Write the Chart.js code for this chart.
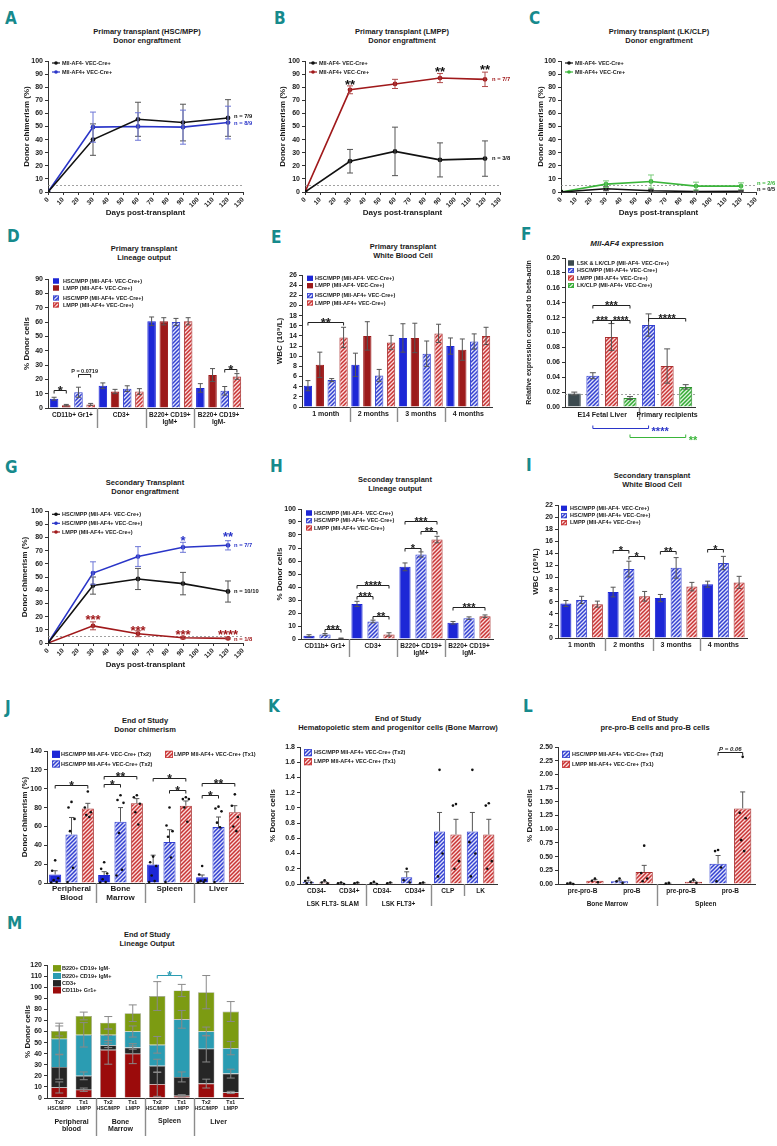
<!DOCTYPE html>
<html>
<head>
<meta charset="utf-8">
<script src="https://cdn.jsdelivr.net/npm/chart.js@4.4.1/dist/chart.umd.min.js"></script>
<style>
html, body { margin: 0; padding: 0; background: #fff; }
#fig { position: relative; width: 777px; height: 1146px; overflow: hidden; background: #fff; }
#fig canvas { position: absolute; }
.lt { position: absolute; font: bold 17px/17px 'Liberation Sans Narrow', 'DejaVu Sans Condensed', sans-serif; color: #168a8c; }
.tt { position: absolute; transform: translateX(-50%); text-align: center; white-space: nowrap;
      font: bold 7.5px/9px 'Liberation Sans', Arial, sans-serif; color: #1a1a1a; }
</style>
</head>
<body>
<div id="fig">
  <div class="lt" style="left:5px;top:10px">A</div>
  <div class="lt" style="left:274px;top:10px">B</div>
  <div class="lt" style="left:529px;top:10px">C</div>
  <div class="lt" style="left:7px;top:228px">D</div>
  <div class="lt" style="left:271px;top:229px">E</div>
  <div class="lt" style="left:521px;top:226px">F</div>
  <div class="lt" style="left:5px;top:459px">G</div>
  <div class="lt" style="left:270px;top:458px">H</div>
  <div class="lt" style="left:526px;top:457px">I</div>
  <div class="lt" style="left:5px;top:699px">J</div>
  <div class="lt" style="left:268px;top:698px">K</div>
  <div class="lt" style="left:523px;top:698px">L</div>
  <div class="lt" style="left:7px;top:915px">M</div>

  <div class="tt" style="left:147px;top:26.5px">Primary transplant (HSC/MPP)<br>Donor engraftment</div>
  <div class="tt" style="left:402px;top:26.5px">Primary transplant (LMPP)<br>Donor engraftment</div>
  <div class="tt" style="left:659px;top:26.5px">Primary transplant (LK/CLP)<br>Donor engraftment</div>
  <div class="tt" style="left:144px;top:243.5px">Primary transplant<br>Lineage output</div>
  <div class="tt" style="left:403px;top:241.5px">Primary transplant<br>White Blood Cell</div>
  <div class="tt" style="left:627px;top:238.5px;font-size:8px"><i>Mll-AF4</i> expression</div>
  <div class="tt" style="left:145px;top:477.5px">Secondary Transplant<br>Donor engraftment</div>
  <div class="tt" style="left:395px;top:474.5px">Seconday transplant<br>Lineage output</div>
  <div class="tt" style="left:652px;top:470.5px">Secondary transplant<br>White Blood Cell</div>
  <div class="tt" style="left:145px;top:715.5px">End of Study<br>Donor chimerism</div>
  <div class="tt" style="left:398px;top:713.5px">End of Study<br>Hematopoietic stem and progenitor cells (Bone Marrow)</div>
  <div class="tt" style="left:655px;top:713.5px">End of Study<br>pre-pro-B cells and pro-B cells</div>
  <div class="tt" style="left:147px;top:929.5px">End of Study<br>Lineage Output</div>
</div>

<script>
// ---------- data ----------
const days = [0, 30, 60, 90, 120];

const aNeg = [0, 40, 55.5, 53, 56.5];
const aNegErr = [0, 12, 13, 14, 14];
const aPos = [0, 49.5, 50, 49.5, 53];
const aPosErr = [0, 11.5, 10.5, 13, 12.5];

const bNeg = [0, 23.5, 31, 24.5, 25.5];
const bNegErr = [0, 9, 18.5, 13, 13.5];
const bPos = [0, 78, 82.5, 87, 86];
const bPosErr = [0, 3, 3.5, 3.5, 5.5];

const cNeg = [0, 2.5, 1, 0.3, 0.5];
const cNegErr = [0, 1.5, 1, 0.3, 0.5];
const cPos = [0, 6, 8, 4.5, 4.5];
const cPosErr = [0, 2.5, 5, 3, 2.5];

const lineageCats = [['CD11b+ Gr1+'], ['CD3+'], ['B220+ CD19+', 'IgM+'], ['B220+ CD19+', 'IgM-']];
const dHscNeg = [6.5, 15.5, 60.5, 14];
const dHscNegErr = [1, 2, 3, 3];
const dLmppNeg = [2, 11.5, 60.5, 23];
const dLmppNegErr = [0.5, 1.5, 2.5, 4.5];
const dHscPos = [11, 13.5, 60, 12];
const dHscPosErr = [3.5, 2, 2.5, 3];
const dLmppPos = [2.5, 11.5, 60.5, 22];
const dLmppPosErr = [0.7, 2, 2.5, 2];

const months = ['1 month', '2 months', '3 months', '4 months'];
const eHscNeg = [4.2, 8.3, 13.6, 12];
const eHscNegErr = [1, 2.3, 2.8, 1.6];
const eLmppNeg = [8.3, 14, 13.6, 11.3];
const eLmppNegErr = [2.5, 2.8, 2.9, 2.1];
const eHscPos = [5.3, 6.2, 10.5, 12.9];
const eHscPosErr = [0.3, 1.2, 2.5, 1.5];
const eLmppPos = [13.7, 12.7, 14.5, 14];
const eLmppPosErr = [2, 1.4, 1.8, 1.7];

const fCats = ['LSK & LK/CLP', 'HSC/MPP', 'LMPP', 'LK/CLP', 'HSC/MPP', 'LMPP', 'LK/CLP'];
const fVals = [0.018, 0.042, 0.094, 0.012, 0.110, 0.055, 0.027];
const fErr = [0.002, 0.004, 0.018, 0.002, 0.015, 0.023, 0.003];

const gHscNeg = [0, 43.5, 48.5, 45, 39];
const gHscNegErr = [0, 6.5, 8, 8.5, 8];
const gHscPos = [0, 53, 65.5, 72.5, 74];
const gHscPosErr = [0, 8.5, 7.5, 3.8, 3.5];
const gLmppPos = [0, 13, 7, 4, 3.5];
const gLmppPosErr = [0, 3, 2.2, 0.8, 0.5];

const hHscNeg = [2.5, 27, 55.5, 12.5];
const hHscNegErr = [0.8, 2, 3, 1];
const hHscPos = [3.5, 13.5, 65, 16];
const hHscPosErr = [0.7, 1, 2, 1];
const hLmppPos = [0.5, 3.5, 76.5, 17.5];
const hLmppPosErr = [0.2, 1.3, 2.5, 1];

const iHscNeg = [5.7, 7.6, 6.6, 8.9];
const iHscNegErr = [0.5, 0.8, 0.6, 0.5];
const iHscPos = [6.3, 11.4, 11.6, 12.4];
const iHscPosErr = [0.6, 1.3, 1.7, 1.1];
const iLmppPos = [5.6, 6.9, 8.5, 9.2];
const iLmppPosErr = [0.5, 0.8, 0.7, 1];

const tissues = [['Peripheral', 'Blood'], ['Bone', 'Marrow'], ['Spleen'], ['Liver']];
const jHscNeg = [9, 8.5, 19.5, 6];
const jHscNegErr = [4, 3.5, 10, 2.5];
const jHscPos = [51.5, 65, 43.5, 59.5];
const jHscPosErr = [18, 15, 13, 10.5];
const jLmppPos = [79, 84.5, 82, 75];
const jLmppPosErr = [5.5, 5, 5, 7];
const jHscNegDots = [[24, 13, 5, 3, 1, 0.5], [22, 15, 10, 4, 1, 0.5], [28, 22, 18, 8, 2, 1], [18, 9, 3, 2, 1, 0.5]];
const jHscPosDots = [[86, 80, 68, 55, 16, 1], [93, 88, 85, 53, 14, 8], [80, 61, 55, 49, 27, 1], [81, 79, 76, 64, 59, 1]];
const jLmppPosDots = [[97, 80, 75, 72, 70], [93, 91, 84, 75, 62], [91, 89, 89, 80, 65], [94, 82, 70, 60, 55]];

const kCats = ['CD34-', 'CD34+', 'CD34-', 'CD34+', 'CLP', 'LK'];
const kHscPos = [0.03, 0.01, 0.01, 0.09, 0.69, 0.69];
const kHscPosErr = [0.02, 0.005, 0.005, 0.07, 0.25, 0.25];
const kLmppPos = [0.02, 0.01, 0.01, 0.01, 0.65, 0.65];
const kLmppPosErr = [0.01, 0.005, 0.005, 0.005, 0.2, 0.2];
const kHscPosDots = [[0.08, 0.04, 0.02, 0.01], [0.02, 0.01, 0], [0.03, 0.01, 0], [0.2, 0.05, 0.02], [1.5, 0.55, 0.4, 0.1], [1.5, 0.55, 0.4, 0.1]];
const kLmppPosDots = [[0.05, 0.02, 0.01], [0.02, 0.01], [0.02, 0.01], [0.02, 0.01], [1.05, 1.03, 0.3, 0.2], [1.06, 1.03, 0.3, 0.2]];

const lCats = ['pre-pro-B', 'pro-B', 'pre-pro-B', 'pro-B'];
const lHscPos = [0.01, 0.05, 0.01, 0.37];
const lHscPosErr = [0.005, 0.02, 0.005, 0.15];
const lLmppPos = [0.06, 0.22, 0.04, 1.38];
const lLmppPosErr = [0.02, 0.12, 0.02, 0.3];
const lHscPosDots = [[0.02, 0.01, 0], [0.1, 0.05, 0.02], [0.02, 0.01], [0.62, 0.6, 0.3, 0.05]];
const lLmppPosDots = [[0.1, 0.06, 0.03], [0.7, 0.2, 0.1, 0.05], [0.08, 0.04, 0.02], [2.32, 1.3, 1.2, 0.8, 0.6]];

const mCats = [['Tx2', 'HSC/MPP'], ['Tx1', 'LMPP'], ['Tx2', 'HSC/MPP'], ['Tx1', 'LMPP'],
               ['Tx2', 'HSC/MPP'], ['Tx1', 'LMPP'], ['Tx2', 'HSC/MPP'], ['Tx1', 'LMPP']];
const mMyeloid = [9.5, 7.5, 43.5, 40, 12.5, 2, 13, 5];
const mMyeloidErr = [5, 1.5, 13, 9, 11, 1, 4, 1];
const mT = [18.5, 12.5, 4, 5.5, 16.5, 17, 31.5, 17];
const mTErr = [11, 3.5, 2, 1.5, 6, 4.5, 12, 4];
const mIgMPos = [25.5, 37, 9.5, 14.5, 19, 52, 15.5, 23];
const mIgMPosErr = [14, 11, 5, 5, 7.5, 8, 4, 6];
const mIgMNeg = [7, 17, 11, 16.5, 44, 26, 35.5, 33];
const mIgMNegErr = [4.5, 3.5, 5.5, 7.5, 13, 5.5, 15, 9];

// ---------- styles ----------
const FONT = "'Liberation Sans', Arial, 'DejaVu Sans', sans-serif";
const BLUE = '#1d27d6', RED = '#9c1a1a', HB = '#3340d0', HR = '#c83434', HG = '#33aa33', GRAY = '#3c4a4f';
const LBLUE = '#2a35c8', LRED = '#a0191b', LGREEN = '#3ab53a', BLACK = '#111';
const MRED = '#9b0b0b', MDARK = '#262626', MTEAL = '#2b9cb2', MOLIVE = '#7c9b12';

Chart.defaults.font.family = FONT;
Chart.defaults.font.size = 7;
Chart.defaults.font.weight = 'bold';
Chart.defaults.color = '#1a1a1a';

function hatch(color, bg) {
    const t = document.createElement('canvas');
    t.width = t.height = 4;
    const g = t.getContext('2d');
    g.fillStyle = bg;
    g.fillRect(0, 0, 4, 4);
    g.strokeStyle = color;
    g.lineWidth = 1.5;
    g.beginPath();
    g.moveTo(0, 4); g.lineTo(4, 0);
    g.moveTo(-1, 1); g.lineTo(1, -1);
    g.moveTo(3, 5); g.lineTo(5, 3);
    g.stroke();
    return g.createPattern(t, 'repeat');
}

const S = {
    blue: { backgroundColor: BLUE, borderColor: BLUE },
    red: { backgroundColor: RED, borderColor: RED },
    hblue: { backgroundColor: hatch(HB, '#dfe2fa'), borderColor: HB },
    hred: { backgroundColor: hatch(HR, '#fadcdc'), borderColor: '#a83030' },
    hgreen: { backgroundColor: hatch(HG, '#dcf3dc'), borderColor: '#2f8f2f' },
    gray: { backgroundColor: GRAY, borderColor: GRAY }
};

// ---------- plugin: error bars, dots, brackets, labels, legends ----------
Chart.register({
    id: 'extras',
    beforeDatasetsDraw(chart) {
        const ex = chart.data.ex;
        if (!ex || !ex.hlines) return;
        const ctx = chart.ctx, ys = chart.scales.y, a = chart.chartArea;
        ctx.save();
        ex.hlines.forEach(h => {
            const y = Math.round(ys.getPixelForValue(h.v)) + 0.5;
            ctx.strokeStyle = h.c || '#8a8a8a';
            ctx.lineWidth = 0.8;
            ctx.setLineDash([2, 2]);
            ctx.beginPath(); ctx.moveTo(a.left, y); ctx.lineTo(a.right, y); ctx.stroke();
        });
        ctx.restore();
    },
    afterDatasetsDraw(chart) {
        const ctx = chart.ctx, ys = chart.scales.y;
        ctx.save();
        chart.data.datasets.forEach((ds, di) => {
            const meta = chart.getDatasetMeta(di);
            if (ds.err) meta.data.forEach((el, i) => {
                const e = ds.err[i];
                if (!e) return;
                const v = ys.getValueForPixel(el.y);
                const y1 = ys.getPixelForValue(v + e), y2 = ys.getPixelForValue(ds.errUp ? v : v - e);
                const cw = ds.capW || 3;
                ctx.strokeStyle = ds.errColor || ds.borderColor;
                ctx.lineWidth = 1;
                ctx.beginPath();
                ctx.moveTo(el.x, y1); ctx.lineTo(el.x, y2);
                ctx.moveTo(el.x - cw, y1); ctx.lineTo(el.x + cw, y1);
                if (!ds.errUp) { ctx.moveTo(el.x - cw, y2); ctx.lineTo(el.x + cw, y2); }
                ctx.stroke();
            });
            if (ds.dots) meta.data.forEach((el, i) => {
                (ds.dots[i] || []).forEach((v, k) => {
                    const jit = [0, -3, 3, -1.5, 1.5, -4, 4][k % 7];
                    ctx.fillStyle = '#111';
                    ctx.beginPath();
                    ctx.arc(el.x + jit, ys.getPixelForValue(v), 1.3, 0, Math.PI * 2);
                    ctx.fill();
                });
            });
        });
        ctx.restore();
    },
    afterDraw(chart) {
        const ex = chart.data.ex;
        if (!ex) return;
        const ctx = chart.ctx, xs = chart.scales.x, ys = chart.scales.y, a = chart.chartArea;
        const ox = ex.ox, oy = ex.oy;
        const pt = (p) => chart.getDatasetMeta(p[0]).data[p[1]];
        ctx.save();

        (ex.seps || []).forEach(s => {
            const x = Math.round((xs.getPixelForValue(s.after) + xs.getPixelForValue(s.after + 1)) / 2) + 0.5;
            ctx.strokeStyle = '#8c8c8c';
            ctx.lineWidth = 1.4;
            ctx.beginPath(); ctx.moveTo(x, a.bottom); ctx.lineTo(x, a.bottom + s.len); ctx.stroke();
        });

        (ex.glabels || []).forEach(g => {
            const x = (xs.getPixelForValue(g.from) + xs.getPixelForValue(g.to)) / 2;
            ctx.font = 'bold ' + (g.size || 7) + 'px ' + FONT;
            ctx.fillStyle = '#1a1a1a';
            ctx.textAlign = 'center';
            ctx.textBaseline = 'middle';
            g.lines.forEach((t, k) => ctx.fillText(t, x, g.y - oy + k * (g.lh || 8)));
        });

        (ex.brackets || []).forEach(b => {
            const p1 = pt(b.p[0]), p2 = pt(b.p[1]);
            const y = Math.round(b.py != null ? b.py - oy : ys.getPixelForValue(b.v)) + 0.5;
            const tk = b.tick == null ? 3 : b.tick;
            const col = b.c || '#222';
            ctx.strokeStyle = col;
            ctx.lineWidth = 1;
            ctx.beginPath();
            ctx.moveTo(p1.x, y + tk); ctx.lineTo(p1.x, y); ctx.lineTo(p2.x, y); ctx.lineTo(p2.x, y + tk);
            ctx.stroke();
            ctx.fillStyle = col;
            const star = /^\*+$/.test(b.t);
            const fs = b.fs || (star ? 13 : 6);
            ctx.font = (b.it ? 'italic ' : '') + 'bold ' + fs + 'px ' + FONT;
            ctx.textBaseline = 'alphabetic';
            if (b.side) {
                ctx.textAlign = 'left';
                ctx.fillText(b.t, p2.x + 3, y + fs * 0.58);
            } else {
                ctx.textAlign = 'center';
                ctx.fillText(b.t, (p1.x + p2.x) / 2, star ? y + fs * 0.35 : y - 2);
            }
        });

        (ex.texts || []).forEach(t => {
            const el = pt([t.ds, t.i]);
            const x = el.x + (t.dx || 0);
            const y = t.v != null ? ys.getPixelForValue(t.v) : el.y + (t.dy || 0);
            const star = /^\*+$/.test(t.t);
            ctx.fillStyle = t.c || '#111';
            ctx.textAlign = t.align || 'center';
            if (star) {
                ctx.font = 'bold 13px ' + FONT;
                ctx.textBaseline = 'alphabetic';
                ctx.fillText(t.t, x, y + 7.5);
            } else {
                ctx.font = 'bold 5.8px ' + FONT;
                ctx.textBaseline = 'middle';
                ctx.fillText(t.t, x, y);
            }
        });

        if (ex.legend) {
            const L = ex.legend;
            ctx.font = 'bold 5.5px ' + FONT;
            ctx.textAlign = 'left';
            ctx.textBaseline = 'middle';
            L.items.forEach(it => {
                const bx = (it.x != null ? it.x : L.x) - ox;
                const tx = bx + (L.tx - L.x);
                const y = it.y - oy;
                if (it.type === 'line') {
                    ctx.strokeStyle = it.c;
                    ctx.lineWidth = 1.2;
                    ctx.beginPath(); ctx.moveTo(bx, y); ctx.lineTo(bx + 8, y); ctx.stroke();
                    ctx.fillStyle = it.c;
                    ctx.beginPath(); ctx.arc(bx + 4, y, 1.8, 0, Math.PI * 2); ctx.fill();
                } else {
                    const w = L.w || 6, h = L.h || 5;
                    ctx.fillStyle = it.fill;
                    ctx.fillRect(bx, y - h / 2, w, h);
                    ctx.strokeStyle = it.c;
                    ctx.lineWidth = 0.8;
                    ctx.strokeRect(bx + 0.4, y - h / 2 + 0.4, w - 0.8, h - 0.8);
                }
                ctx.fillStyle = '#1a1a1a';
                ctx.fillText(it.t, tx, y);
            });
        }
        ctx.restore();
    }
});

// ---------- helpers ----------
function makeCanvas(box) {
    const c = document.createElement('canvas');
    c.width = box[2];
    c.height = box[3];
    c.style.left = box[0] + 'px';
    c.style.top = box[1] + 'px';
    document.getElementById('fig').appendChild(c);
    return c;
}

function yAxis(min, max, step, title, digits, tsize) {
    return {
        min: min, max: max,
        ticks: { stepSize: step, padding: 2, autoSkip: false, font: { size: 7 },
                 callback: v => digits ? Number(v).toFixed(digits) : v },
        grid: { drawOnChartArea: false, tickLength: 3, color: '#333' },
        border: { color: '#333' },
        title: { display: true, text: title, padding: 0, font: { size: tsize || 8 } }
    };
}

function catAxis(size, pad, lh) {
    return {
        ticks: { padding: pad, autoSkip: false, maxRotation: 0, font: { size: size, lineHeight: lh || 1.05 } },
        grid: { drawOnChartArea: false, drawTicks: false },
        border: { color: '#333' }
    };
}

function daysAxis() {
    return {
        type: 'linear', min: 0, max: 130,
        ticks: { stepSize: 10, autoSkip: false, minRotation: 45, maxRotation: 45, padding: 1, font: { size: 6.5 } },
        grid: { drawOnChartArea: false, tickLength: 3, color: '#333' },
        border: { color: '#333' },
        title: { display: true, text: 'Days post-transplant', padding: 0, font: { size: 8 } }
    };
}

function draw(type, box, area, data, x, y, ex, stacked) {
    const [bx, by, bw, bh] = box, [L, T, R, B] = area;
    x.afterFit = s => { s.height = by + bh - B; s.paddingLeft = 0; s.paddingRight = 0; };
    y.afterFit = s => { s.width = L - bx; s.paddingTop = 0; s.paddingBottom = 0; };
    if (stacked) { x.stacked = true; y.stacked = true; }
    data.ex = Object.assign({ ox: bx, oy: by }, ex);
    new Chart(makeCanvas(box), {
        type: type,
        data: data,
        options: {
            responsive: false,
            animation: false,
            devicePixelRatio: 1,
            layout: { padding: { left: 0, top: T - by, right: bx + bw - R, bottom: 0 } },
            plugins: { legend: { display: false }, tooltip: { enabled: false } },
            scales: { x: x, y: y }
        }
    });
}

function series(vals, err, color, errColor) {
    return {
        data: days.map((d, i) => ({ x: d, y: vals[i] })),
        err: err, errColor: errColor, capW: 3,
        borderColor: color, backgroundColor: color, pointBackgroundColor: color,
        borderWidth: 1.6, pointRadius: 2.4, pointBorderWidth: 0, tension: 0
    };
}

function bar(vals, err, style, extra) {
    return Object.assign({ data: vals, err: err, errColor: '#555', capW: 2.5, borderWidth: 1,
                           barPercentage: 0.7, categoryPercentage: 1 }, style, extra || {});
}

function lineLegend(x, labels) {
    return { x: x, tx: x + 10, items: labels };
}

// ---------- A ----------
draw('line', [22, 50, 238, 168], [48, 61, 243, 192],
    { datasets: [series(aNeg, aNegErr, BLACK, '#555'), series(aPos, aPosErr, LBLUE, '#6d76d6')] },
    daysAxis(), yAxis(0, 100, 10, 'Donor chimerism (%)'),
    {
        hlines: [{ v: 5 }],
        legend: lineLegend(52, [{ t: 'Mll-AF4- VEC-Cre+', type: 'line', c: BLACK, y: 63 },
                                { t: 'Mll-AF4+ VEC-Cre+', type: 'line', c: LBLUE, y: 72 }]),
        texts: [{ ds: 0, i: 4, t: 'n = 7/9', c: BLACK, dx: 6, v: 57.5, align: 'left' },
                { ds: 1, i: 4, t: 'n = 8/9', c: LBLUE, dx: 6, v: 52.4, align: 'left' }]
    });

// ---------- B ----------
draw('line', [278, 50, 240, 168], [305, 61, 500, 192],
    { datasets: [series(bNeg, bNegErr, BLACK, '#555'), series(bPos, bPosErr, LRED, '#b04a4a')] },
    daysAxis(), yAxis(0, 100, 10, 'Donor chimerism (%)'),
    {
        hlines: [{ v: 5 }],
        legend: lineLegend(309, [{ t: 'Mll-AF4- VEC-Cre+', type: 'line', c: BLACK, y: 63 },
                                 { t: 'Mll-AF4+ VEC-Cre+', type: 'line', c: LRED, y: 72 }]),
        texts: [{ ds: 1, i: 4, t: 'n = 7/7', c: LRED, dx: 7, v: 86, align: 'left' },
                { ds: 0, i: 4, t: 'n = 3/8', c: BLACK, dx: 7, v: 25.5, align: 'left' },
                { ds: 1, i: 1, t: '**', c: BLACK, v: 84.2 },
                { ds: 1, i: 3, t: '**', c: BLACK, v: 94.4 },
                { ds: 1, i: 4, t: '**', c: BLACK, v: 95.6 }]
    });

// ---------- C ----------
draw('line', [536, 50, 241, 168], [561, 61, 756, 192],
    { datasets: [series(cNeg, cNegErr, BLACK, '#555'), series(cPos, cPosErr, LGREEN, '#7acb7a')] },
    daysAxis(), yAxis(0, 100, 10, 'Donor chimerism (%)'),
    {
        hlines: [{ v: 5 }],
        legend: lineLegend(565, [{ t: 'Mll-AF4- VEC-Cre+', type: 'line', c: BLACK, y: 63 },
                                 { t: 'Mll-AF4+ VEC-Cre+', type: 'line', c: LGREEN, y: 72 }]),
        texts: [{ ds: 1, i: 4, t: 'n = 2/6', c: LGREEN, dx: 16, v: 6.9, align: 'left' },
                { ds: 0, i: 4, t: 'n = 0/5', c: BLACK, dx: 16, v: 2.3, align: 'left' }]
    });

// ---------- D ----------
draw('bar', [22, 270, 238, 165], [48, 279, 243, 408],
    { labels: lineageCats, datasets: [
        bar(dHscNeg, dHscNegErr, S.blue), bar(dLmppNeg, dLmppNegErr, S.red),
        bar(dHscPos, dHscPosErr, S.hblue), bar(dLmppPos, dLmppPosErr, S.hred)] },
    catAxis(6.5, 3.6), yAxis(0, 90, 10, '% Donor cells'),
    {
        seps: [{ after: 0, len: 20 }, { after: 1, len: 20 }, { after: 2, len: 20 }],
        legend: { x: 53, tx: 63, items: [
            { t: 'HSC/MPP (Mll-AF4- VEC-Cre+)', fill: BLUE, c: BLUE, y: 281 },
            { t: 'LMPP (Mll-AF4- VEC-Cre+)', fill: RED, c: RED, y: 288 },
            { t: 'HSC/MPP (Mll-AF4+ VEC-Cre+)', fill: S.hblue.backgroundColor, c: HB, y: 298 },
            { t: 'LMPP (Mll-AF4+ VEC-Cre+)', fill: S.hred.backgroundColor, c: HR, y: 305 }] },
        brackets: [{ p: [[0, 0], [1, 0]], v: 12.6, t: '*' },
                   { p: [[2, 0], [3, 0]], v: 24, t: 'P = 0.0719', fs: 5.5 },
                   { p: [[2, 3], [3, 3]], v: 27, t: '*' }]
    });

// ---------- E ----------
draw('bar', [275, 266, 243, 168], [302, 275, 492, 407],
    { labels: months, datasets: [
        bar(eHscNeg, eHscNegErr, S.blue), bar(eLmppNeg, eLmppNegErr, S.red),
        bar(eHscPos, eHscPosErr, S.hblue), bar(eLmppPos, eLmppPosErr, S.hred)] },
    catAxis(7, 3.8), yAxis(0, 26, 2, 'WBC (10⁹/L)'),
    {
        seps: [{ after: 0, len: 15 }, { after: 1, len: 15 }, { after: 2, len: 15 }],
        legend: { x: 307, tx: 315, items: [
            { t: 'HSC/MPP (Mll-AF4- VEC-Cre+)', fill: BLUE, c: BLUE, y: 278.3 },
            { t: 'LMPP (Mll-AF4- VEC-Cre+)', fill: RED, c: RED, y: 285.7 },
            { t: 'HSC/MPP (Mll-AF4+ VEC-Cre+)', fill: S.hblue.backgroundColor, c: HB, y: 295.7 },
            { t: 'LMPP (Mll-AF4+ VEC-Cre+)', fill: S.hred.backgroundColor, c: HR, y: 303 }] },
        brackets: [{ p: [[0, 0], [3, 0]], v: 16.8, t: '**' }]
    });

// ---------- F ----------
const fStyles = [S.gray, S.hblue, S.hred, S.hgreen, S.hblue, S.hred, S.hgreen];
draw('bar', [525, 250, 252, 195], [565, 258, 695, 407],
    { labels: fCats, datasets: [bar(fVals, fErr, {
        backgroundColor: fStyles.map(s => s.backgroundColor),
        borderColor: fStyles.map(s => s.borderColor) }, { errColor: '#555', capW: 3 })] },
    Object.assign(catAxis(7, 3), { ticks: { display: false } }),
    yAxis(0, 0.2, 0.02, 'Relative expression compared to beta-actin', 2, 7),
    {
        hlines: [{ v: 0.018 }],
        seps: [{ after: 3, len: 13 }],
        glabels: [{ from: 0, to: 3, lines: ['E14 Fetal Liver'], y: 415 },
                  { from: 4, to: 6, lines: ['Primary recipients'], y: 415 }],
        legend: { x: 568, tx: 577, items: [
            { t: 'LSK & LK/CLP (Mll-AF4- VEC-Cre+)', fill: GRAY, c: GRAY, y: 263 },
            { t: 'HSC/MPP (Mll-AF4+ VEC-Cre+)', fill: S.hblue.backgroundColor, c: HB, y: 270.5 },
            { t: 'LMPP (Mll-AF4+ VEC-Cre+)', fill: S.hred.backgroundColor, c: HR, y: 278 },
            { t: 'LK/CLP (Mll-AF4+ VEC-Cre+)', fill: S.hgreen.backgroundColor, c: HG, y: 285.5 }] },
        brackets: [{ p: [[0, 1], [0, 3]], v: 0.137, t: '***', fs: 11 },
                   { p: [[0, 1], [0, 2]], v: 0.117, t: '***', fs: 10 },
                   { p: [[0, 2], [0, 3]], v: 0.117, t: '****', fs: 10 },
                   { p: [[0, 4], [0, 6]], v: 0.12, t: '****', fs: 11 },
                   { p: [[0, 1], [0, 4]], py: 428.3, tick: -3, t: '****', c: '#2a35c8', side: true, fs: 11 },
                   { p: [[0, 3], [0, 6]], py: 436.7, tick: -3, t: '**', c: '#3ab53a', side: true, fs: 11 }]
    });

// ---------- G ----------
draw('line', [20, 500, 240, 170], [48, 511, 243, 643],
    { datasets: [series(gHscNeg, gHscNegErr, BLACK, '#555'), series(gHscPos, gHscPosErr, LBLUE, '#6d76d6'),
                 series(gLmppPos, gLmppPosErr, LRED, '#b04a4a')] },
    daysAxis(), yAxis(0, 100, 10, 'Donor chimerism (%)'),
    {
        hlines: [{ v: 5 }],
        legend: lineLegend(52, [{ t: 'HSC/MPP (Mll-AF4- VEC-Cre+)', type: 'line', c: BLACK, y: 514.3 },
                                { t: 'HSC/MPP (Mll-AF4+ VEC-Cre+)', type: 'line', c: LBLUE, y: 523.3 },
                                { t: 'LMPP (Mll-AF4+ VEC-Cre+)', type: 'line', c: LRED, y: 532 }]),
        texts: [{ ds: 1, i: 4, t: 'n = 7/7', c: LBLUE, dx: 6, v: 74, align: 'left' },
                { ds: 0, i: 4, t: 'n = 10/10', c: BLACK, dx: 6, v: 39, align: 'left' },
                { ds: 2, i: 4, t: 'n = 1/8', c: LRED, dx: 6, v: 2.5, align: 'left' },
                { ds: 1, i: 3, t: '*', c: LBLUE, v: 79.8 },
                { ds: 1, i: 4, t: '**', c: LBLUE, v: 82.6 },
                { ds: 2, i: 1, t: '***', c: LRED, v: 20 },
                { ds: 2, i: 2, t: '***', c: LRED, v: 12 },
                { ds: 2, i: 3, t: '***', c: LRED, v: 8.6 },
                { ds: 2, i: 4, t: '****', c: LRED, v: 8.6 }]
    });

// ---------- H ----------
draw('bar', [275, 500, 243, 165], [301, 509, 493, 639],
    { labels: lineageCats, datasets: [
        bar(hHscNeg, hHscNegErr, S.blue), bar(hHscPos, hHscPosErr, S.hblue), bar(hLmppPos, hLmppPosErr, S.hred)] },
    catAxis(6.5, 3.6), yAxis(0, 100, 10, '% Donor cells'),
    {
        seps: [{ after: 0, len: 18 }, { after: 1, len: 18 }, { after: 2, len: 18 }],
        legend: { x: 306, tx: 314, items: [
            { t: 'HSC/MPP (Mll-AF4- VEC-Cre+)', fill: BLUE, c: BLUE, y: 513 },
            { t: 'HSC/MPP (Mll-AF4+ VEC-Cre+)', fill: S.hblue.backgroundColor, c: HB, y: 520.7 },
            { t: 'LMPP (Mll-AF4+ VEC-Cre+)', fill: S.hred.backgroundColor, c: HR, y: 528 }] },
        brackets: [{ p: [[1, 0], [2, 0]], v: 7.7, t: '***', fs: 11 },
                   { p: [[0, 1], [1, 1]], v: 33, t: '***', fs: 11 },
                   { p: [[0, 1], [2, 1]], v: 41.5, t: '****', fs: 11 },
                   { p: [[1, 1], [2, 1]], v: 17.7, t: '**', fs: 11 },
                   { p: [[0, 2], [1, 2]], v: 70, t: '*', fs: 11 },
                   { p: [[1, 2], [2, 2]], v: 83, t: '**', fs: 11 },
                   { p: [[0, 2], [2, 2]], v: 91, t: '***', fs: 11 },
                   { p: [[0, 3], [2, 3]], v: 24.6, t: '***', fs: 11 }]
    });

// ---------- I ----------
draw('bar', [531, 496, 246, 165], [558, 505, 747, 638],
    { labels: months, datasets: [
        bar(iHscNeg, iHscNegErr, S.blue), bar(iHscPos, iHscPosErr, S.hblue), bar(iLmppPos, iLmppPosErr, S.hred)] },
    catAxis(7, 3.5), yAxis(0, 22, 2, 'WBC (10⁹/L)'),
    {
        seps: [{ after: 0, len: 13 }, { after: 1, len: 13 }, { after: 2, len: 13 }],
        legend: { x: 561, tx: 570, items: [
            { t: 'HSC/MPP (Mll-AF4- VEC-Cre+)', fill: BLUE, c: BLUE, y: 508.3 },
            { t: 'HSC/MPP (Mll-AF4+ VEC-Cre+)', fill: S.hblue.backgroundColor, c: HB, y: 515.7 },
            { t: 'LMPP (Mll-AF4+ VEC-Cre+)', fill: S.hred.backgroundColor, c: HR, y: 522.7 }] },
        brackets: [{ p: [[0, 1], [1, 1]], v: 14.6, t: '*', fs: 11 },
                   { p: [[1, 1], [2, 1]], v: 13.5, t: '*', fs: 11 },
                   { p: [[0, 2], [1, 2]], v: 14.4, t: '**', fs: 11 },
                   { p: [[0, 3], [1, 3]], v: 14.7, t: '*', fs: 11 }]
    });

// ---------- J ----------
draw('bar', [20, 742, 240, 172], [47, 751, 243, 883],
    { labels: tissues, datasets: [
        bar(jHscNeg, jHscNegErr, S.blue, { dots: jHscNegDots, errUp: true, barPercentage: 0.74 }),
        bar(jHscPos, jHscPosErr, S.hblue, { dots: jHscPosDots, errUp: true, barPercentage: 0.74 }),
        bar(jLmppPos, jLmppPosErr, S.hred, { dots: jLmppPosDots, errUp: true, barPercentage: 0.74 })] },
    catAxis(8, 1, 1.12), yAxis(0, 140, 20, 'Donor chimerism (%)'),
    {
        seps: [{ after: 0, len: 20 }, { after: 1, len: 20 }, { after: 2, len: 20 }],
        legend: { x: 52, tx: 61, w: 8, h: 7, items: [
            { t: 'HSC/MPP Mll-AF4- VEC-Cre+ (Tx2)', fill: BLUE, c: BLUE, y: 754.3 },
            { t: 'HSC/MPP Mll-AF4+ VEC-Cre+ (Tx2)', fill: S.hblue.backgroundColor, c: HB, y: 764 },
            { t: 'LMPP Mll-AF4+ VEC-Cre+ (Tx1)', fill: S.hred.backgroundColor, c: HR, y: 754.3, x: 165 }] },
        brackets: [{ p: [[0, 0], [2, 0]], v: 104, t: '*', fs: 12 },
                   { p: [[0, 1], [2, 1]], v: 113.8, t: '**', fs: 12 },
                   { p: [[0, 1], [1, 1]], v: 105, t: '*', fs: 12 },
                   { p: [[0, 2], [2, 2]], v: 111, t: '*', fs: 12 },
                   { p: [[1, 2], [2, 2]], v: 98.6, t: '*', fs: 12 },
                   { p: [[0, 3], [2, 3]], v: 106, t: '**', fs: 12 },
                   { p: [[0, 3], [1, 3]], v: 93, t: '*', fs: 12 }]
    });

// ---------- K ----------
draw('bar', [268, 738, 250, 180], [300, 747, 497, 884],
    { labels: kCats, datasets: [
        bar(kHscPos, kHscPosErr, S.hblue, { dots: kHscPosDots, errUp: true, barPercentage: 0.68 }),
        bar(kLmppPos, kLmppPosErr, S.hred, { dots: kLmppPosDots, errUp: true, barPercentage: 0.68 })] },
    catAxis(6.5, 3.5), yAxis(0, 1.8, 0.2, '% Donor cells', 1),
    {
        seps: [{ after: 1, len: 22 }, { after: 3, len: 22 }, { after: 4, len: 12 }],
        glabels: [{ from: 0, to: 1, lines: ['LSK FLT3- SLAM'], y: 904, size: 6.5 },
                  { from: 2, to: 3, lines: ['LSK FLT3+'], y: 904, size: 6.5 }],
        legend: { x: 304, tx: 314, w: 8, h: 7, items: [
            { t: 'HSC/MPP Mll-AF4+ VEC-Cre+ (Tx2)', fill: S.hblue.backgroundColor, c: HB, y: 752.7 },
            { t: 'LMPP Mll-AF4+ VEC-Cre+ (Tx1)', fill: S.hred.backgroundColor, c: HR, y: 761.7 }] }
    });

// ---------- L ----------
draw('bar', [525, 738, 252, 180], [558, 747, 755, 884],
    { labels: lCats, datasets: [
        bar(lHscPos, lHscPosErr, S.hblue, { dots: lHscPosDots, errUp: true, barPercentage: 0.7 }),
        bar(lLmppPos, lLmppPosErr, S.hred, { dots: lLmppPosDots, errUp: true, barPercentage: 0.7 })] },
    catAxis(6.5, 3.5), yAxis(0, 2.5, 0.25, '% Donor cells', 2),
    {
        seps: [{ after: 1, len: 22 }],
        glabels: [{ from: 0, to: 1, lines: ['Bone Marrow'], y: 904, size: 6.5 },
                  { from: 2, to: 3, lines: ['Spleen'], y: 904, size: 6.5 }],
        legend: { x: 562, tx: 572, w: 8, h: 7, items: [
            { t: 'HSC/MPP Mll-AF4+ VEC-Cre+ (Tx2)', fill: S.hblue.backgroundColor, c: HB, y: 754.3 },
            { t: 'LMPP Mll-AF4+ VEC-Cre+ (Tx1)', fill: S.hred.backgroundColor, c: HR, y: 764.3 }] },
        brackets: [{ p: [[0, 3], [1, 3]], v: 2.41, t: 'P = 0.06', it: true, fs: 6 }]
    });

// ---------- M ----------
const mStyle = (c) => ({ backgroundColor: c, borderColor: '#9a9a9a', borderWidth: 0.6, errColor: '#8a8a8a',
                         barPercentage: 0.67, capW: 4 });
draw('bar', [23, 955, 237, 185], [47, 965, 243, 1098],
    { labels: mCats, datasets: [
        bar(mMyeloid, mMyeloidErr, mStyle(MRED)),
        bar(mT, mTErr, mStyle(MDARK)),
        bar(mIgMPos, mIgMPosErr, mStyle(MTEAL)),
        bar(mIgMNeg, mIgMNegErr, mStyle(MOLIVE))] },
    catAxis(5.2, 0.8, 1.3), yAxis(0, 120, 10, '% Donor cells'),
    {
        seps: [{ after: 1, len: 38 }, { after: 3, len: 38 }, { after: 5, len: 38 }],
        glabels: [{ from: 0, to: 1, lines: ['Peripheral', 'blood'], y: 1122, size: 7, lh: 7.5 },
                  { from: 2, to: 3, lines: ['Bone', 'Marrow'], y: 1122, size: 7, lh: 7.5 },
                  { from: 4, to: 5, lines: ['Spleen'], y: 1121, size: 7 },
                  { from: 6, to: 7, lines: ['Liver'], y: 1122, size: 7 }],
        legend: { x: 53, tx: 62, w: 8, h: 6, items: [
            { t: 'B220+ CD19+ IgM-', fill: MOLIVE, c: MOLIVE, y: 968.3 },
            { t: 'B220+ CD19+ IgM+', fill: MTEAL, c: MTEAL, y: 976 },
            { t: 'CD3+', fill: MDARK, c: MDARK, y: 983.3 },
            { t: 'CD11b+ Gr1+', fill: MRED, c: MRED, y: 990.3 }] },
        brackets: [{ p: [[3, 4], [3, 5]], v: 111, t: '*', c: MTEAL, fs: 12 }]
    }, true);
</script>
</body>
</html>
